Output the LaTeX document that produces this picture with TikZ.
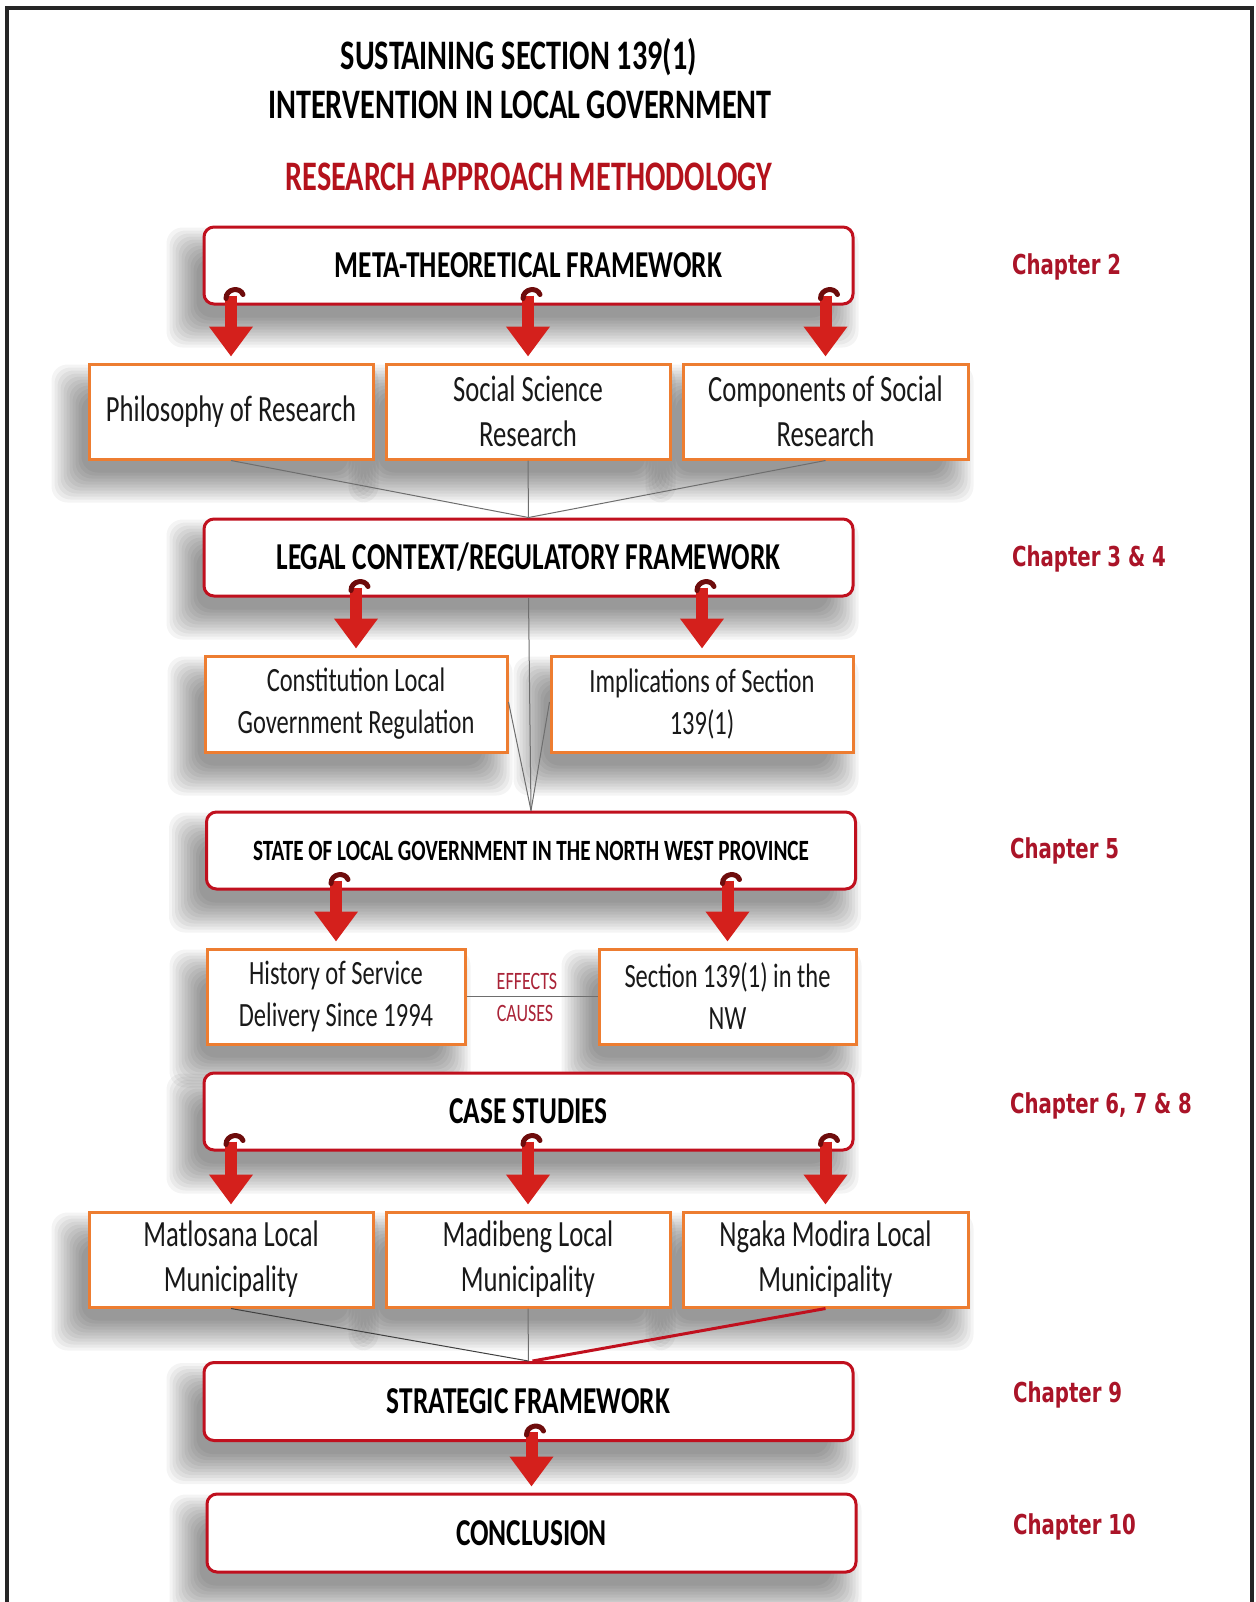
\documentclass[tikz,border=0pt]{standalone}
\usepackage{fontspec}
\newfontfamily\cf[FakeStretch=0.72]{Carlito}
\newfontfamily\chapfont[FakeStretch=0.72]{DejaVu Sans}
\usetikzlibrary{arrows.meta,calc,backgrounds}

\definecolor{boxred}{RGB}{192,16,30}
\definecolor{subor}{RGB}{237,125,49}
\definecolor{arrred}{RGB}{212,32,28}
\definecolor{curlred}{RGB}{110,12,12}
\definecolor{chapred}{RGB}{170,20,40}
\definecolor{titlered}{RGB}{180,18,28}
\definecolor{effred}{RGB}{170,36,56}
\definecolor{linkgray}{RGB}{110,110,110}

\tikzset{
  mainbox/.style={draw=boxred, line width=1.5pt, fill=white, rounded corners=5pt,
    minimum width=324.5pt, minimum height=38.5pt, inner sep=0pt,
    font=\cf\bfseries\fontsize{19}{23}\selectfont},
  subbox/.style={draw=subor, line width=1.5pt, fill=white,
    minimum width=142pt, minimum height=47.5pt, inner sep=0pt, align=center,
    text=black!90, font=\cf\fontsize{18.5}{22.5}\selectfont},
  smallsub/.style={subbox, font=\cf\fontsize{17}{21}\selectfont},
  heading/.style={font=\cf\bfseries\fontsize{21}{25}\selectfont},
  chapter/.style={anchor=west, text=chapred, font=\chapfont\bfseries\fontsize{13.7}{16}\selectfont},
  effect/.style={text=effred, font=\cf\fontsize{12.5}{15}\selectfont},
  fatarrow/.style={draw=arrred, line width=6pt, -{Triangle[width=21pt,length=15pt]}, shorten >=3pt},
  curl/.style={draw=curlred, line width=2.5pt, line cap=round},
  link/.style={draw=linkgray, line width=0.5pt},
  shadowlayer/.style={fill=black, opacity=0.045, rounded corners=8pt},
}

% thick red drop arrow from a parent box down to a child box
\newcommand\dropto[2]{%
  \coordinate (#2-top) at ($(#1.south -| #2.north)+(0,-10)$);
  \draw[fatarrow] (#2-top) -- (#2.north);
  \draw[curl] ($(#2-top)+(-5,3)$) .. controls ($(#2-top)+(-5,-7)$) and ($(#2-top)+(9,-9)$) .. ($(#2-top)+(12,-1)$);
}

% soft drop shadow, built from stacked translucent layers
\newcommand\softshadow[1]{%
  \foreach \e in {0,3,...,30} {
    \fill[shadowlayer] ($(#1.south west)+({-6-\e},{12+\e})$) rectangle ($(#1.north east)+({-26+\e},{32-\e})$);
  }
}

\begin{document}
\begin{tikzpicture}[x=0.5pt,y=-0.5pt]
\useasboundingbox (0,0) rectangle (1256,1602);

% headings
\node[heading] (title1) at (519,57) {SUSTAINING SECTION 139(1)};
\node[heading] (title2) at (520,105) {INTERVENTION IN LOCAL GOVERNMENT};
\node[heading, text=titlered] (title3) at (529,177) {RESEARCH APPROACH METHODOLOGY};

% main stages
\node[mainbox] (box1) at (528.5,265.5) {META-THEORETICAL FRAMEWORK};
\node[subbox, minimum width=142.5pt] (comp) at (825.5,411.5) {Components of Social\\Research};
\node[subbox] (soc) at (528,411.5) {Social Science\\Research};
\node[subbox] (phil) at (231,411.5) {Philosophy of Research};

\node[mainbox] (box2) at (528.5,557.5) {LEGAL CONTEXT/REGULATORY FRAMEWORK};
\node[smallsub, minimum width=151pt, minimum height=48pt] (impl) at (702,704) {Implications of Section\\139(1)};
\node[smallsub, minimum width=151pt, minimum height=48pt] (cons) at (356,704) {Constitution Local\\Government Regulation};

\node[mainbox, font=\cf\bfseries\fontsize{14.7}{18}\selectfont] (box3) at (531,850.5) {STATE OF LOCAL GOVERNMENT IN THE NORTH WEST PROVINCE};
\node[smallsub, minimum width=128.5pt] (sect) at (727.5,996.5) {Section 139(1) in the\\NW};
\node[smallsub, minimum width=129pt] (hist) at (336,996.5) {History of Service\\Delivery Since 1994};

\node[mainbox] (box4) at (528.5,1111.5) {CASE STUDIES};
\node[subbox, minimum width=142.5pt] (nga) at (825.5,1259.5) {Ngaka Modira Local\\Municipality};
\node[subbox] (mad) at (528,1259.5) {Madibeng Local\\Municipality};
\node[subbox] (mat) at (231,1259.5) {Matlosana Local\\Municipality};

\node[mainbox, minimum height=39pt] (box5) at (528.5,1401.5) {STRATEGIC FRAMEWORK};
\node[mainbox, minimum height=39pt] (box6) at (531.5,1533) {CONCLUSION};

% page, frame and shadows behind everything
\begin{scope}[on background layer]
  \fill[white] (0,0) rectangle (1256,1602);
  \foreach \n in {box1,box2,box3,box4,box5,box6,phil,soc,comp,cons,impl,hist,sect,mat,mad,nga}
    {\softshadow{\n}}
\end{scope}
\draw[black!85, line width=2pt] (7,1610) -- (7,8) -- (1252,8) -- (1252,1610);

% connecting lines
\draw[link] (phil.south) -- (box2.north);
\draw[link] (soc.south) -- (box2.north);
\draw[link] (comp.south) -- (box2.north);
\draw[link] (box2.south) -- (box3.north);
\draw[link] ($(cons.east)+(0,-2)$) -- (box3.north);
\draw[link] ($(impl.west)+(0,-2)$) -- (box3.north);
\draw[link] (hist.east) -- (sect.west);
\node[effect] (eff) at (527,981) {EFFECTS};
\node[effect] (cau) at (525,1013) {CAUSES};
\draw[draw=black!75, line width=0.5pt] (mat.south) -- (box5.north);
\draw[link] (mad.south) -- (box5.north);
\draw[draw=boxred, line width=1.5pt] (nga.south) -- ($(box5.north)+(4,0)$);

% drop arrows
\dropto{box1}{phil}
\dropto{box1}{soc}
\dropto{box1}{comp}
\dropto{box2}{cons}
\dropto{box2}{impl}
\dropto{box3}{hist}
\dropto{box3}{sect}
\dropto{box4}{mat}
\dropto{box4}{mad}
\dropto{box4}{nga}
\dropto{box5}{box6}

% chapter references
\node[chapter] (ch2) at (1005,267) {Chapter 2};
\node[chapter] (ch34) at (1005,559) {Chapter 3 \& 4};
\node[chapter] (ch5) at (1003,851) {Chapter 5};
\node[chapter] (ch678) at (1003,1106) {Chapter 6, 7 \& 8};
\node[chapter] (ch9) at (1006,1395) {Chapter 9};
\node[chapter] (ch10) at (1006,1527) {Chapter 10};
\end{tikzpicture}
\end{document}
